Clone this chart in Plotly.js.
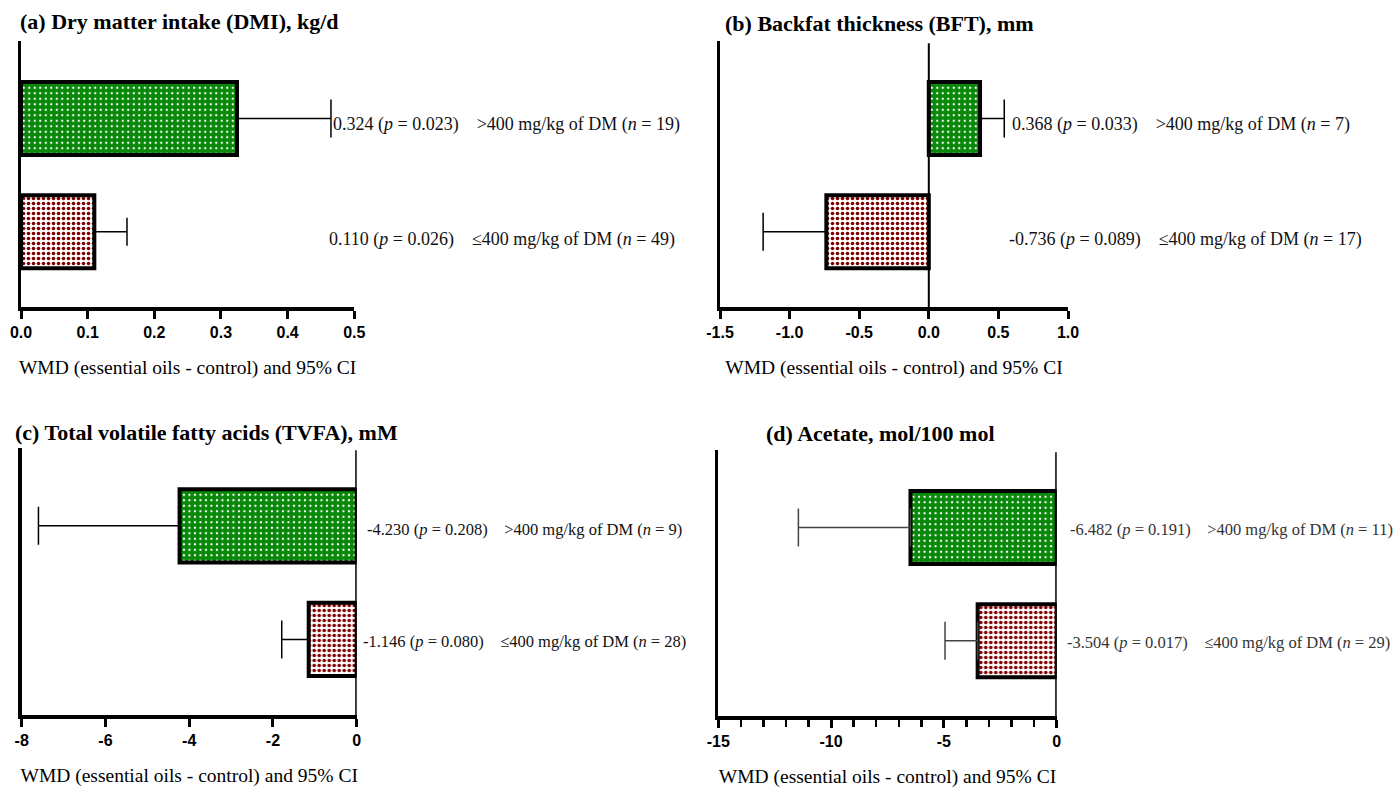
<!DOCTYPE html>
<html><head><meta charset="utf-8">
<script src="https://cdn.plot.ly/plotly-3.0.1.min.js"></script>
<style>html,body{margin:0;padding:0;background:#fff}</style>
</head><body><div id="chart" style="width:1400px;height:794px"></div>
<script>
// ---- data ----
const groups = ['≤400 mg/kg of DM', '>400 mg/kg of DM'];
const panelTitles = ['(a) Dry matter intake (DMI), kg/d', '(b) Backfat thickness (BFT), mm',
                     '(c) Total volatile fatty acids (TVFA), mM', '(d) Acetate, mol/100 mol'];
const xAxisTitle = 'WMD (essential oils - control) and 95% CI';

const dmiWMD = [0.110, 0.324];
const dmiCI  = [0.159, 0.465];
const dmiP   = ['0.026', '0.023'];
const dmiN   = [49, 19];

const bftWMD = [-0.736, 0.368];
const bftCI  = [-1.19, 0.542];
const bftP   = ['0.089', '0.033'];
const bftN   = [17, 7];

const tvfaWMD = [-1.146, -4.230];
const tvfaCI  = [-1.79, -7.60];
const tvfaP   = ['0.080', '0.208'];
const tvfaN   = [28, 9];

const acetWMD = [-3.504, -6.482];
const acetCI  = [-4.95, -11.45];
const acetP   = ['0.017', '0.191'];
const acetN   = [29, 11];

const dmiTicks = [0, 0.1, 0.2, 0.3, 0.4, 0.5];
const dmiTickText = ['0.0', '0.1', '0.2', '0.3', '0.4', '0.5'];
const bftTicks = [-1.5, -1, -0.5, 0, 0.5, 1];
const bftTickText = ['-1.5', '-1.0', '-0.5', '0.0', '0.5', '1.0'];
const tvfaTicks = [-8, -6, -4, -2, 0];
const tvfaTickText = ['-8', '-6', '-4', '-2', '0'];
const acetTicks = [-15, -10, -5, 0];
const acetTickText = ['-15', '-10', '-5', '0'];
const acetMinorTicks = [-14, -13, -12, -11, -9, -8, -7, -6, -4, -3, -2, -1];

// ---- styles ----
const barStyles = [
  {bg: '#ffffff', fg: '#800000', size: 5, solidity: 0.42},   // ≤400
  {bg: '#088808', fg: '#ffffff', size: 5.5, solidity: 0.14}  // >400
];

// ---- layout helpers (pixel -> paper) ----
const W = 1400, H = 794;
const px = x => x / W;
const py = y => 1 - y / H;

const panels = [
  {wmd: dmiWMD, ci: dmiCI, p: dmiP, n: dmiN, ticks: dmiTicks, tt: dmiTickText, range: [0, 0.5],
   box: [21, 41, 354.3, 307], title: [18, 22], txt: [[327, 237], [331, 123]], fs: 18,
   zero: false, errColor: '#000', capW: [14, 19]},
  {wmd: bftWMD, ci: bftCI, p: bftP, n: bftN, ticks: bftTicks, tt: bftTickText, range: [-1.5, 1.0],
   box: [720, 41, 1068, 307], title: [723, 24], txt: [[1007, 237], [1010, 123]], fs: 18,
   zero: 2, errColor: '#000', capW: [19, 19]},
  {wmd: tvfaWMD, ci: tvfaCI, p: tvfaP, n: tvfaN, ticks: tvfaTicks, tt: tvfaTickText, range: [-8, 0],
   box: [21.7, 448, 356.7, 715], title: [13, 432], txt: [[361, 639], [365, 527]], fs: 16.5,
   zero: 3, errColor: '#000', capW: [19, 19]},
  {wmd: acetWMD, ci: acetCI, p: acetP, n: acetN, ticks: acetTicks, tt: acetTickText, range: [-15, 0],
   box: [718.3, 450, 1056.7, 716], title: [764, 433], txt: [[1065, 640], [1068, 527]], fs: 16.5,
   zero: 3, errColor: '#444', capW: [19, 19], minor: acetMinorTicks}
];

const serif = 'Liberation Serif, Times New Roman, serif';
const data = [];
const layout = {
  width: W, height: H, margin: {l: 0, r: 0, t: 0, b: 0}, barmode: 'overlay',
  paper_bgcolor: '#fff', plot_bgcolor: 'rgba(0,0,0,0)', showlegend: false,
  annotations: [], shapes: []
};

panels.forEach((pn, i) => {
  const k = i === 0 ? '' : String(i + 1);
  const xa = 'x' + k, ya = 'y' + k;
  groups.forEach((g, j) => {
    const v = pn.wmd[j];
    const d = pn.ci[j] - v;
    const st = barStyles[j];
    data.push({
      type: 'bar', orientation: 'h', x: [v], y: [g], xaxis: xa, yaxis: ya,
      width: 0.645, hoverinfo: 'skip', opacity: 1,
      marker: {
        color: st.bg,
        line: {color: '#000', width: 4},
        pattern: {shape: '.', fillmode: 'replace', bgcolor: st.bg, fgcolor: st.fg,
                  size: st.size, solidity: st.solidity}
      },
      error_x: {type: 'data', symmetric: false, array: [d > 0 ? d : 0], arrayminus: [d < 0 ? -d : 0],
                color: pn.errColor, thickness: 1.5, width: pn.capW[j]}
    });
  });
  const [x0, y0, x1, y1] = pn.box;
  const xaxis = {
    domain: [px(x0), px(x1)], range: pn.range, anchor: ya, fixedrange: true,
    tickmode: 'array', tickvals: pn.ticks, ticktext: pn.tt,
    ticks: 'outside', ticklen: 8, tickwidth: 3, tickcolor: '#000',
    showline: true, linewidth: 3.5, linecolor: '#000', showgrid: false, zeroline: false,
    tickfont: {family: 'Liberation Sans, Arial, sans-serif', size: 16, weight: 'bold', color: '#000'},
    title: {text: xAxisTitle, font: {family: serif, size: 19.5, color: '#000'}, standoff: 21}
  };
  if (pn.minor) {
    xaxis.minor = {tickmode: 'array', tickvals: pn.minor, ticks: 'outside', ticklen: 7, tickwidth: 2.5, tickcolor: '#000'};
  }
  const yaxis = {
    domain: [py(y1), py(y0)], range: [-0.665, 1.685], type: 'category',
    categoryorder: 'array', categoryarray: groups, anchor: xa, fixedrange: true,
    showticklabels: false, ticks: '', showline: true, linewidth: 3.5, linecolor: '#000',
    showgrid: false, zeroline: false
  };
  layout['xaxis' + k] = xaxis;
  layout['yaxis' + k] = yaxis;

  if (pn.zero) {
    layout.shapes.push({type: 'line', xref: xa, yref: ya + ' domain', x0: 0, x1: 0, y0: 0, y1: 0.992,
                        line: {color: '#000', width: pn.zero}});
  }
  layout.annotations.push({
    xref: 'paper', yref: 'paper', x: px(pn.title[0]), y: py(pn.title[1]),
    xanchor: 'left', yanchor: 'middle', showarrow: false,
    text: '<b>' + panelTitles[i] + '</b>',
    font: {family: serif, size: 22, color: '#000'}
  });
  groups.forEach((g, j) => {
    const sp = '\u00a0\u00a0\u00a0\u00a0';
    layout.annotations.push({
      xref: 'paper', yref: 'paper', x: px(pn.txt[j][0]), y: py(pn.txt[j][1]),
      xanchor: 'left', yanchor: 'middle', showarrow: false, yshift: -2,
      text: pn.wmd[j].toFixed(3) + ' (<i>p</i> = ' + pn.p[j] + ')' + sp + g + ' (<i>n</i> = ' + pn.n[j] + ')',
      font: {family: serif, size: pn.fs, color: i === 3 ? '#333' : '#111'}
    });
  });
});

Plotly.newPlot('chart', data, layout, {displayModeBar: false, staticPlot: true});
</script></body></html>
